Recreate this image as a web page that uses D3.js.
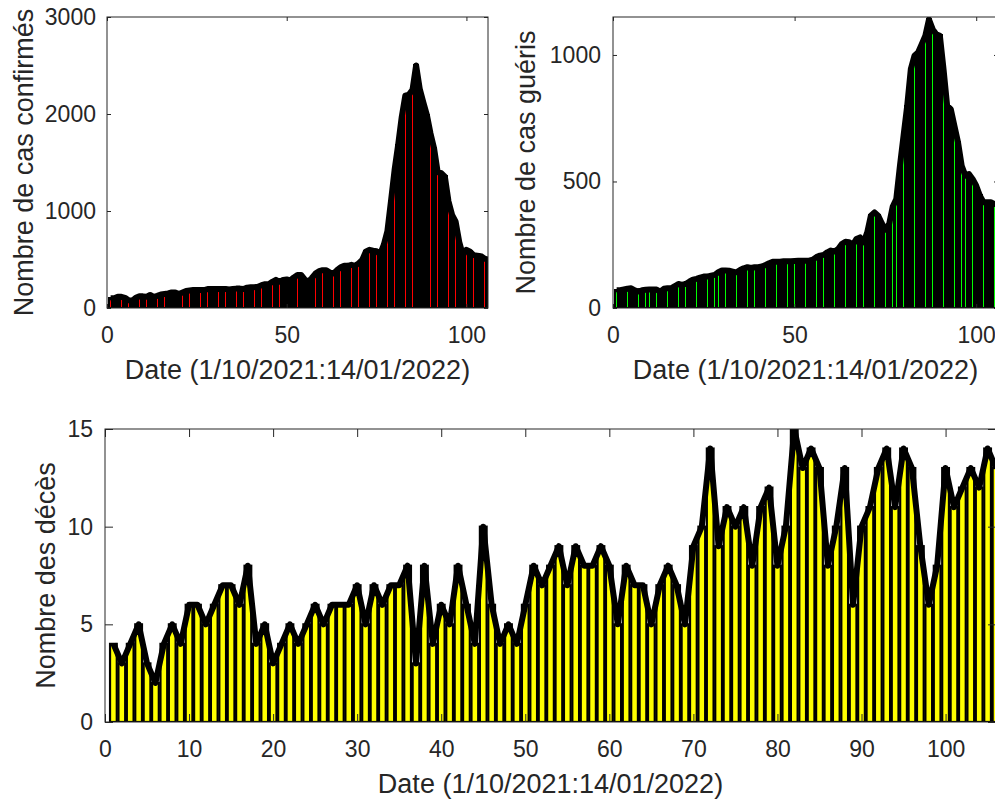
<!DOCTYPE html>
<html>
<head>
<meta charset="utf-8">
<script src="https://cdn.jsdelivr.net/npm/d3@7"></script>
<style>
  body { margin: 0; background: #fff; overflow: hidden; }
  svg { display: block; }
  text { font-family: "Liberation Sans", Arial, sans-serif; fill: #262626; }
</style>
</head>
<body>
<div id="chart"></div>
<script>
// day index 1..106 (1/10/2021 -> 14/01/2022)
const days = d3.range(1, 107);

const confirmed = [100, 100, 115, 115, 105, 80, 75, 105, 120, 120,
  115, 135, 115, 125, 140, 145, 150, 160, 160, 145,
  160, 175, 180, 185, 185, 185, 185, 195, 195, 195,
  195, 195, 195, 190, 195, 200, 200, 195, 210, 215,
  215, 220, 235, 245, 245, 270, 290, 270, 290, 295,
  285, 315, 340, 340, 295, 270, 310, 355, 380, 390,
  390, 365, 355, 390, 420, 435, 435, 445, 435, 460,
  495, 580, 600, 590, 585, 555, 650, 790, 1100, 1420,
  1680, 1970, 2190, 2200, 2250, 2500, 2260, 2120, 1990, 1800,
  1645, 1400, 1390, 1355, 1100, 960, 890, 680, 545, 600,
  580, 545, 540, 535, 510, 500];

const recovered = [70, 70, 73, 76, 78, 70, 65, 70, 72, 73,
  73, 73, 65, 76, 78, 78, 86, 95, 91, 95,
  104, 112, 115, 120, 124, 124, 128, 131, 141, 148,
  148, 147, 144, 141, 150, 157, 161, 158, 161, 161,
  164, 170, 177, 183, 183, 183, 185, 185, 185, 186,
  187, 187, 187, 187, 191, 201, 207, 210, 220, 227,
  223, 233, 253, 262, 260, 249, 273, 279, 260, 299,
  365, 378, 365, 335, 310, 330, 400, 431, 562, 681,
  799, 944, 997, 1010, 1043, 1076, 1140, 1102, 1082, 1076,
  944, 799, 786, 720, 654, 562, 523, 529, 510, 483,
  444, 418, 418, 418, 411, 410];

const deaths = [4, 3, 4, 5, 3, 2, 4, 5, 4, 6,
  6, 5, 6, 7, 7, 6, 8, 4, 5, 3,
  4, 5, 4, 5, 6, 5, 6, 6, 6, 7,
  5, 7, 6, 7, 7, 8, 3, 8, 4, 6,
  5, 8, 6, 4, 10, 6, 4, 5, 4, 6,
  8, 7, 8, 9, 7, 9, 8, 8, 9, 8,
  5, 8, 7, 7, 5, 7, 8, 7, 5, 9,
  10, 14, 9, 11, 10, 11, 8, 11, 12, 8,
  10, 15, 13, 14, 13, 8, 10, 13, 6, 10,
  11, 13, 14, 11, 14, 13, 9, 6, 8, 13,
  11, 12, 13, 12, 14, 13];

const xTicksTop = [0, 50, 100];
const xTicksBottom = [0, 10, 20, 30, 40, 50, 60, 70, 80, 90, 100];
const yTicksConfirmed = [0, 1000, 2000, 3000];
const yTicksRecovered = [0, 500, 1000];
const yTicksDeaths = [0, 5, 10, 15];

const xLabel = 'Date (1/10/2021:14/01/2022)';

const svg = d3.select('#chart').append('svg')
  .attr('width', 995)
  .attr('height', 801);

function drawPanel(p) {
  const x = d3.scaleLinear().domain([0, 106]).range([p.left, p.left + p.width]);
  const y = d3.scaleLinear().domain([0, p.yMax]).range([p.top + p.height, p.top]);
  const g = svg.append('g');

  g.append('clipPath').attr('id', p.id)
    .append('rect')
    .attr('x', p.left).attr('y', p.top)
    .attr('width', p.width).attr('height', p.height);

  const plot = g.append('g').attr('clip-path', `url(#${p.id})`);
  const bw = x(0.8) - x(0);

  plot.selectAll('rect.bar')
    .data(p.values)
    .enter().append('rect')
    .attr('class', 'bar')
    .attr('x', (d, i) => x(days[i]) - bw / 2)
    .attr('y', d => y(d))
    .attr('width', bw)
    .attr('height', d => y(0) - y(d))
    .attr('fill', p.color)
    .attr('stroke', '#000')
    .attr('stroke-width', p.edge)
    .attr('shape-rendering', p.crisp ? 'crispEdges' : null);

  // thick black line over the bar tops
  const line = d3.line()
    .x((d, i) => x(days[i]))
    .y(d => y(d));

  plot.append('path')
    .datum(p.values)
    .attr('d', line)
    .attr('fill', 'none')
    .attr('stroke', '#000')
    .attr('stroke-width', 6)
    .attr('stroke-linejoin', 'round');

  // axes, ticks pointing inward on all four sides
  const tl = p.tickLen;
  g.append('g')
    .attr('transform', `translate(0,${p.top + p.height})`)
    .call(d3.axisBottom(x).tickValues(p.xTicks).tickFormat(d3.format('d'))
      .tickSizeInner(-tl).tickSizeOuter(0).tickPadding(19));
  g.append('g')
    .attr('transform', `translate(${p.left},0)`)
    .call(d3.axisLeft(y).tickValues(p.yTicks).tickFormat(d3.format('d'))
      .tickSizeInner(-tl).tickSizeOuter(0).tickPadding(p.yPad));
  g.append('g')
    .attr('transform', `translate(0,${p.top})`)
    .call(d3.axisTop(x).tickValues(p.xTicks).tickSizeInner(-tl).tickSizeOuter(0).tickFormat(''));
  g.append('g')
    .attr('transform', `translate(${p.left + p.width},0)`)
    .call(d3.axisRight(y).tickValues(p.yTicks).tickSizeInner(-tl).tickSizeOuter(0).tickFormat(''));

  g.selectAll('.domain').remove();
  g.selectAll('.tick line').attr('stroke', '#262626');
  g.selectAll('.tick text')
    .attr('font-size', 23)
    .attr('fill', '#262626')
    .attr('font-family', '"Liberation Sans", Arial, sans-serif');

  g.append('rect')
    .attr('x', p.left).attr('y', p.top)
    .attr('width', p.width).attr('height', p.height)
    .attr('fill', 'none')
    .attr('stroke', '#262626')
    .attr('stroke-width', 1);

  g.append('text')
    .attr('x', p.left + p.width / 2)
    .attr('y', p.top + p.height + 71)
    .attr('text-anchor', 'middle')
    .attr('font-size', 27)
    .text(xLabel);

  g.append('text')
    .attr('transform', `translate(${p.left - p.labelOff},${p.top + p.height / 2}) rotate(-90)`)
    .attr('text-anchor', 'middle')
    .attr('font-size', 27)
    .text(p.yLabel);
}

drawPanel({
  id: 'clipConf', left: 107, top: 17, width: 381, height: 291,
  yMax: 3000, values: confirmed, color: '#ff0000', crisp: true, edge: 2.5,
  xTicks: xTicksTop, yTicks: yTicksConfirmed, tickLen: 4, yPad: 11, labelOff: 74,
  yLabel: 'Nombre de cas confirmés'
});

drawPanel({
  id: 'clipRec', left: 613, top: 17, width: 385, height: 291,
  yMax: 1150, values: recovered, color: '#00ff00', crisp: true, edge: 2.5,
  xTicks: xTicksTop, yTicks: yTicksRecovered, tickLen: 4, yPad: 12, labelOff: 78,
  yLabel: 'Nombre de cas guéris'
});

drawPanel({
  id: 'clipDeaths', left: 105, top: 429, width: 891, height: 293,
  yMax: 15, values: deaths, color: '#ffff00', crisp: false, edge: 2.2,
  xTicks: xTicksBottom, yTicks: yTicksDeaths, tickLen: 8, yPad: 12, labelOff: 50,
  yLabel: 'Nombre des décès'
});
</script>
</body>
</html>
